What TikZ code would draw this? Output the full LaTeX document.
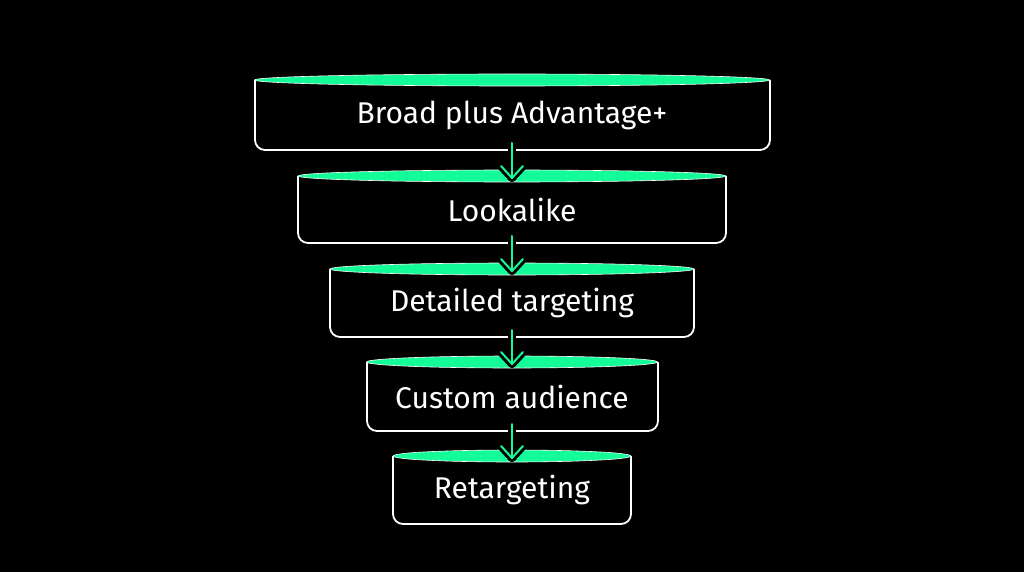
\documentclass[tikz,border=0pt]{standalone}
\usepackage{fontspec}
\setmainfont{Fira Sans}
\definecolor{gr}{HTML}{14FC98}
\begin{document}
\begin{tikzpicture}[x=1pt,y=-1pt,
  box/.style={draw=white,line width=1.8pt,rounded corners=10pt},
  lid/.style={fill=gr,draw=white,line width=0.6pt},
  lbl/.style={text=white,font=\fontsize{30}{34}\selectfont},
  halo/.style={draw=black,line width=8pt,line cap=round,line join=round},
  arr/.style={draw=gr,line width=2pt,line cap=round,line join=round}]
\fill[black] (0,0) rectangle (1024,572);
\useasboundingbox (0,0) rectangle (1024,572);
\foreach \n/\l/\r/\t/\b/\txt in {1/255/770/80/150/Broad plus Advantage+,2/298/726/176/243/Lookalike,3/330/694/269/337/Detailed targeting,4/367/658/362/431/Custom audience,5/393/631/456/524/Retargeting}{
  \draw[box] (\l,\t) -- (\l,\b) -- (\r,\b) -- (\r,\t);
  \path[lid] (512,\t) ellipse ({(\r-\l)/2} and 6);
  \node[lbl] (t\n) at (512,{(\t+\b)/2}) {\txt};
  \coordinate (top\n) at (512,\t);
  \coordinate (bot\n) at (512,\b);
}
\foreach \a/\c in {1/2,2/3,3/4,4/5}{
  \draw[halo] ([yshift=3pt]bot\a) -- ([yshift=-2pt]top\c);
  \draw[halo] ([xshift=-11pt,yshift=10pt]top\c) -- ([yshift=-2pt]top\c) -- ([xshift=11pt,yshift=10pt]top\c);
  \draw[arr] ([yshift=7pt]bot\a) -- ([yshift=-2pt]top\c);
  \draw[arr] ([xshift=-11pt,yshift=10pt]top\c) -- ([yshift=-2pt]top\c) -- ([xshift=11pt,yshift=10pt]top\c);
}
\end{tikzpicture}
\end{document}
